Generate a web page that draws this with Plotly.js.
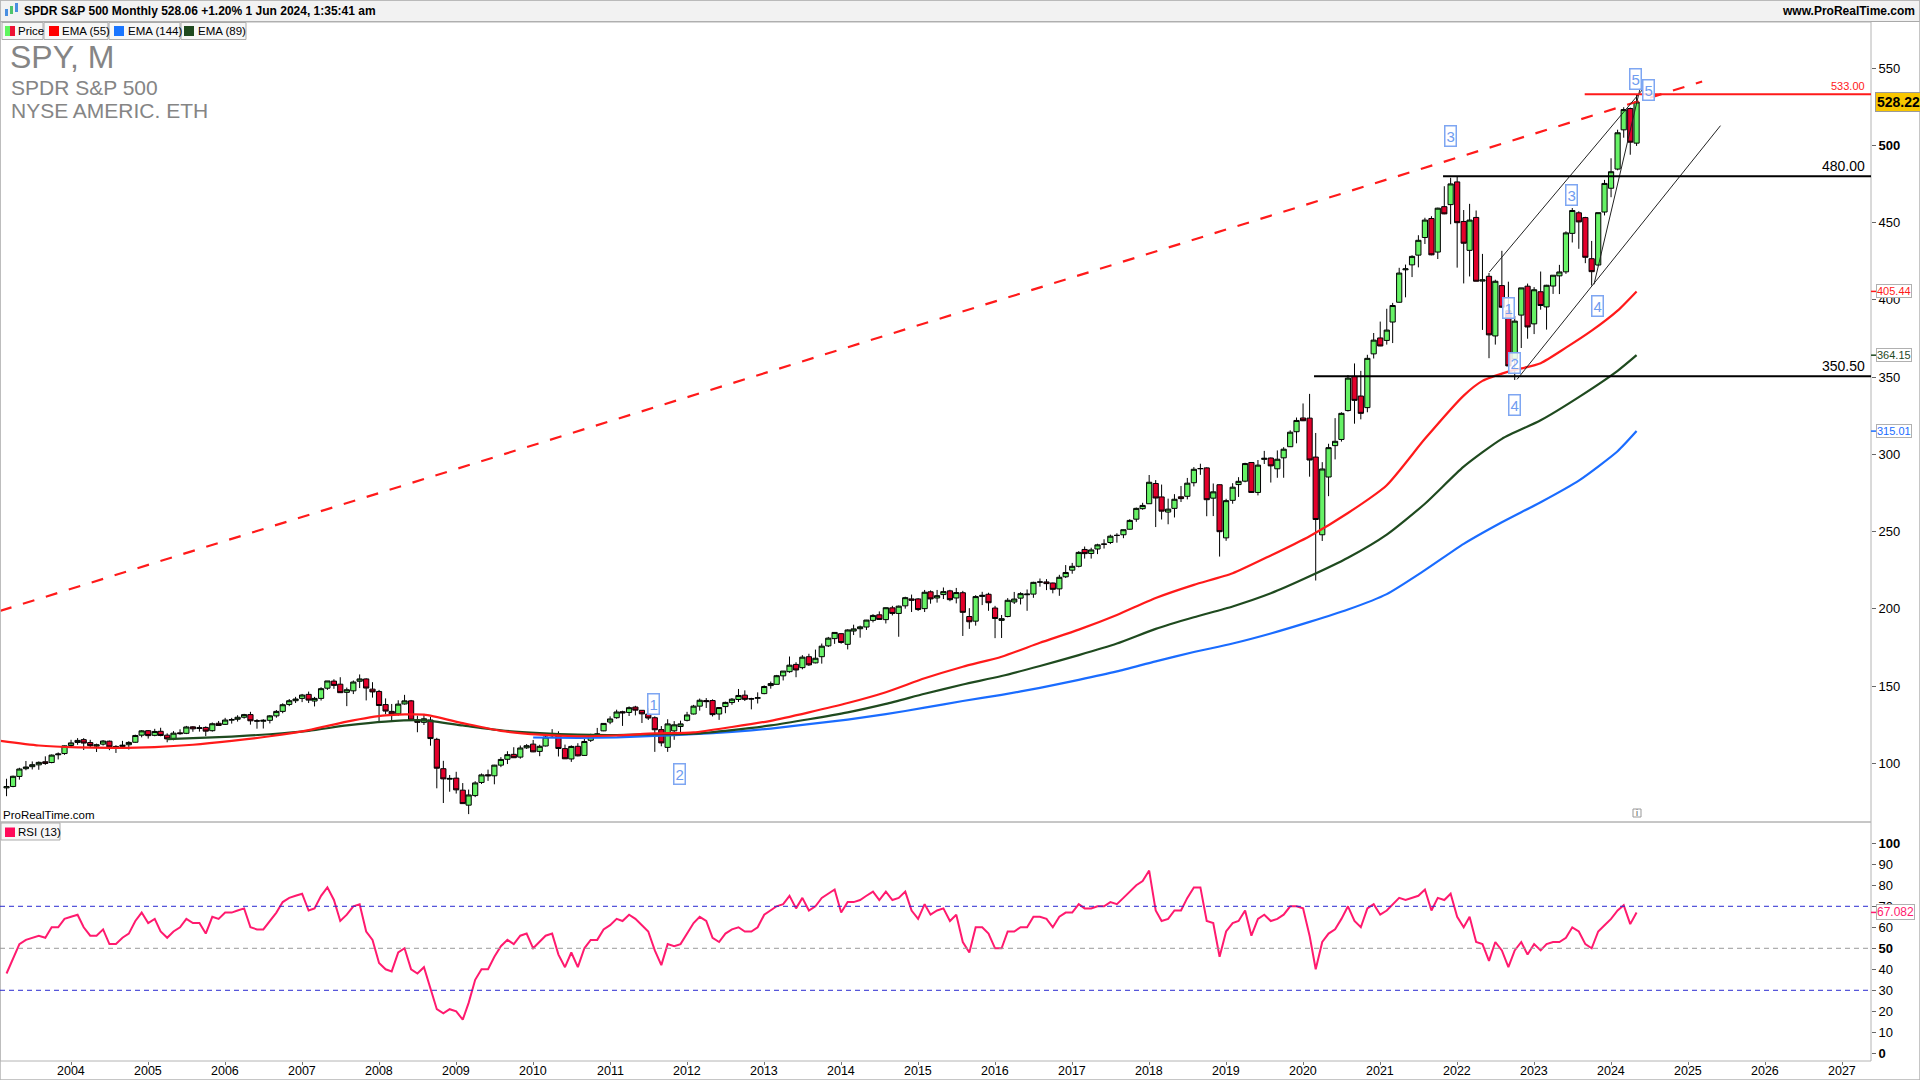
<!DOCTYPE html>
<html><head><meta charset="utf-8">
<script src="https://cdn.plot.ly/plotly-3.0.1.min.js"></script>
<style>html,body{margin:0;padding:0;background:#fff;overflow:hidden}#chart{width:1920px;height:1080px}</style>
</head><body><div id="chart"></div>
<script>
// ---------- DATA (SPY monthly, first bar = March 2003) ----------
const firstBar = [2003, 3];
const open = [
84.1,85.0,91.5,96.5,97.8,99.0,101.0,100.5,105.5,106.3,
111.5,113.5,115.3,113.4,111.1,112.4,114.3,110.9,110.9,112.0,113.6,118.2,
121.1,118.1,120.7,118.2,115.8,119.7,119.4,123.6,122.5,123.2,121.1,125.9,
125.2,127.9,128.5,129.8,131.5,127.6,127.2,127.8,130.7,133.6,138.1,140.5,
142.0,144.6,140.3,142.0,148.6,153.2,151.2,145.9,146.9,153.1,154.6,148.0,
146.5,138.0,133.6,132.0,138.4,140.4,127.6,126.5,128.0,115.5,96.5,89.7,
90.4,82.6,72.9,79.1,87.6,92.6,91.9,98.8,102.6,105.8,104.0,110.0,
112.4,107.7,111.2,117.8,118.9,109.5,102.8,111.0,105.1,114.9,119.0,121.0,
126.7,129.5,133.4,132.9,136.4,134.3,131.8,129.5,121.8,110.3,121.0,123.8,
127.8,131.9,137.0,140.6,140.6,131.9,136.7,139.3,141.3,144.1,141.9,142.1,
145.1,150.3,151.1,156.6,159.3,164.0,161.9,169.0,165.0,169.0,176.0,180.7,
183.9,177.0,185.6,187.1,188.2,192.5,196.1,193.0,200.6,197.0,201.9,206.4,
206.4,200.1,211.0,207.0,209.2,211.6,207.0,210.4,195.0,192.0,208.0,209.4,
200.5,192.5,195.0,204.4,206.9,209.1,209.5,217.2,217.4,216.7,212.9,220.7,
225.0,227.5,238.4,235.8,238.7,241.9,242.9,247.5,247.9,251.5,258.0,264.8,
268.0,281.1,272.4,262.6,265.0,272.5,272.8,281.6,290.8,291.2,271.6,280.3,
245.9,270.2,280.4,282.6,294.7,275.3,296.7,297.6,290.6,297.7,304.9,314.6,
323.5,323.4,298.2,247.9,285.3,305.6,309.6,328.3,350.4,337.7,330.2,365.0,
375.3,373.7,385.6,398.4,419.4,422.6,428.9,440.3,452.6,430.9,460.3,461.6,
476.3,450.7,432.0,453.3,412.1,415.2,376.6,409.2,392.9,361.8,390.1,408.8,
384.4,405.2,395.4,408.9,415.5,418.1,443.0,456.3,453.2,426.6,422.5,456.8,
472.2,484.6,510.0,523.8,501.4];
const high = [
90.0,92.0,97.1,101.5,101.2,101.2,104.5,105.7,107.0,111.5,
115.2,116.3,116.3,115.2,112.7,115.0,114.7,111.7,114.5,114.3,118.5,121.5,
121.4,122.3,123.0,119.4,120.8,122.0,124.2,124.0,124.6,123.9,126.4,127.4,
129.4,129.4,131.1,132.0,133.3,128.6,128.5,131.2,134.5,138.8,141.6,143.0,
144.9,146.4,143.0,149.2,153.3,154.4,155.7,149.0,153.6,157.5,155.0,152.5,
147.5,142.0,138.4,140.8,144.3,141.0,130.8,131.8,130.0,116.5,101.6,92.4,
94.5,87.2,83.0,88.4,93.4,95.9,99.0,104.0,107.8,110.4,111.5,112.4,
115.1,112.0,117.9,122.1,120.7,112.1,111.6,113.0,115.7,119.1,122.9,126.0,
130.4,134.7,134.0,136.8,137.2,134.4,135.7,130.4,124.1,128.5,127.3,127.6,
133.3,137.8,141.9,142.2,141.4,136.3,139.9,142.2,148.1,147.2,142.4,145.9,
150.4,152.9,157.2,159.7,169.1,165.4,170.0,170.9,173.6,177.5,181.8,184.7,
184.1,186.7,189.7,189.1,192.8,196.5,198.3,200.6,201.9,202.1,207.8,209.2,
206.9,212.2,211.9,212.2,213.8,212.3,213.5,211.6,200.4,208.8,211.0,210.4,
201.9,196.0,206.9,210.9,210.7,212.5,217.5,219.6,219.2,216.9,222.0,228.3,
229.7,237.3,240.3,239.5,242.1,245.0,248.0,248.9,251.3,258.0,265.5,268.6,
286.6,283.3,280.4,271.3,274.2,279.5,284.7,291.7,293.9,291.6,281.1,280.4,
271.2,281.3,285.2,294.5,294.9,296.3,302.2,297.9,302.5,304.6,315.5,323.8,
332.9,339.1,313.8,294.9,306.8,323.4,327.2,351.3,358.8,354.0,364.4,378.5,
385.9,394.2,398.0,420.7,422.8,428.8,441.8,453.1,454.1,459.6,473.5,479.0,
480.0,458.1,462.1,457.8,429.7,417.4,413.0,431.7,411.7,389.5,407.7,410.5,
408.2,418.3,409.7,415.9,422.6,444.3,459.4,457.3,453.7,438.1,456.4,477.6,
491.6,510.1,524.6,524.4,533.1];
const low = [
78.7,84.5,89.4,95.5,96.0,95.8,99.0,100.0,102.5,105.5,
110.5,112.0,108.6,110.4,107.3,111.5,108.5,106.7,109.5,108.9,113.3,116.8,
116.0,117.5,117.5,113.6,114.9,118.5,118.9,120.4,120.5,117.6,120.5,124.5,
124.8,125.7,127.0,128.9,125.0,122.4,122.5,125.8,129.5,132.4,137.0,139.0,
139.6,139.0,136.8,140.6,147.5,148.2,145.5,137.0,144.8,148.7,140.7,142.5,
126.1,131.8,127.0,130.8,138.0,127.6,120.1,124.8,111.4,83.8,74.3,81.6,
80.4,73.9,67.1,78.1,86.6,88.6,86.4,97.5,99.5,103.5,103.0,109.3,
107.2,104.6,110.9,116.7,104.4,102.8,100.9,104.5,104.8,113.8,117.1,120.8,
125.3,128.8,124.2,130.6,131.0,126.1,128.0,107.4,111.0,107.4,115.2,118.9,
127.1,131.6,134.1,135.8,130.3,128.1,132.4,137.8,139.7,140.3,134.9,138.7,
144.7,148.3,151.1,153.6,158.6,155.7,160.8,163.0,164.7,164.5,175.3,177.3,
177.4,173.7,183.0,181.3,186.3,191.2,192.9,190.5,195.7,181.9,200.1,197.9,
198.6,197.9,203.3,204.0,206.3,204.9,203.5,182.4,187.0,189.1,202.4,198.7,
181.0,181.1,194.5,203.1,202.8,198.7,207.1,214.3,212.1,210.0,208.4,219.9,
222.7,226.8,232.5,232.5,235.4,239.0,241.9,242.8,245.7,251.2,256.3,264.1,
268.0,252.9,257.8,254.7,259.1,269.1,270.8,279.2,286.7,259.9,260.0,233.8,
244.0,268.0,272.4,281.9,275.0,273.4,293.7,281.7,284.8,284.8,304.7,307.1,
321.5,285.5,218.3,243.9,272.9,296.7,308.2,327.7,319.8,322.6,327.2,362.0,
370.0,371.0,372.0,398.2,401.6,414.7,421.0,436.1,428.8,426.4,455.4,448.9,
420.8,410.6,415.1,412.0,380.5,362.2,371.0,395.0,357.0,348.1,368.8,374.8,
377.8,393.6,380.7,403.8,403.7,416.8,437.1,433.0,423.7,409.2,421.7,454.6,
466.4,483.8,504.9,493.9,499.6];
const close = [
84.9,91.6,96.3,97.6,99.1,100.6,99.9,105.3,106.0,111.3,
113.2,114.8,113.1,111.4,112.0,114.4,110.6,110.6,111.7,113.5,118.0,121.0,
117.9,120.6,118.0,115.8,119.5,119.2,123.5,122.3,123.0,120.8,125.6,124.5,
128.0,128.3,129.8,131.5,127.5,127.3,127.8,130.7,133.6,137.9,140.5,141.6,
144.2,140.9,142.0,148.3,153.3,150.4,145.7,147.6,152.6,154.6,148.7,146.2,
137.4,133.8,132.0,138.3,140.4,127.9,126.5,128.8,116.0,96.8,89.9,90.2,
82.8,73.9,79.5,87.3,92.5,91.9,98.8,102.5,105.6,103.6,109.9,111.4,
107.4,111.0,117.0,118.8,109.6,102.9,110.9,104.8,114.1,118.5,118.8,125.8,
128.7,133.2,132.6,136.0,134.4,132.0,129.3,121.7,113.2,125.5,124.9,125.5,
131.3,137.0,140.8,139.9,131.5,136.1,139.4,141.5,143.9,141.4,141.6,142.4,
149.7,151.6,156.7,159.7,163.5,160.4,168.7,163.7,168.0,175.8,181.0,184.7,
178.2,186.3,187.0,188.3,192.7,195.7,193.1,200.7,197.0,201.7,207.2,205.5,
199.5,210.7,206.4,208.5,211.1,205.9,210.5,197.7,191.6,207.9,208.7,203.9,
193.7,193.6,205.5,206.3,209.8,209.5,217.1,217.4,216.3,212.6,220.4,223.5,
227.5,236.5,235.7,238.1,241.4,241.8,247.0,247.5,251.2,257.2,265.0,266.9,
281.9,271.7,263.2,264.5,270.9,271.3,281.3,290.3,290.7,270.6,275.7,249.9,
270.0,278.7,282.5,294.0,275.3,293.0,297.4,292.5,296.8,303.3,314.3,321.9,
321.7,296.3,257.8,290.5,304.3,308.4,326.5,349.3,334.9,326.5,362.1,373.9,
370.1,380.4,396.3,417.3,420.0,428.1,438.5,451.6,429.1,459.3,455.6,475.0,
449.9,436.6,451.6,412.0,412.9,377.3,412.0,395.2,357.2,386.2,407.7,382.4,
406.5,396.3,409.4,415.9,418.0,443.3,457.8,450.4,427.5,418.2,456.4,475.3,
482.9,508.1,523.1,502.0,528.06];
const rsi13 = [
38,45,52,54,55,56,55,60,60,64,
65,66,60,56,56,59,52,52,55,57,63,67,
62,64,58,55,58,60,64,62,62,57,65,64,
67,67,68,69,60,59,59,63,67,72,74,75,
76,68,69,75,79,73,63,66,70,71,58,54,
43,40,39,48,50,40,38,41,31,21,19,21,
20,16,24,35,40,40,46,51,54,52,56,57,
50,53,56,57,47,41,48,41,50,54,54,59,
61,64,63,66,64,61,58,49,42,52,51,52,
57,62,65,63,55,53,57,59,60,58,58,60,
66,68,70,71,75,69,74,68,70,74,76,78,
67,72,72,73,75,77,73,77,73,74,77,68,
64,71,66,68,69,63,66,53,48,60,60,57,
50,50,58,58,60,60,65,65,64,60,65,67,
67,71,69,69,70,70,72,71,74,77,80,82,
87,68,63,64,68,68,74,79,79,63,62,46,
58,62,63,68,56,64,66,63,64,66,70,70,
69,56,40,53,57,59,64,70,63,60,69,71,
66,68,71,74,73,74,75,78,68,74,73,76,
65,60,65,53,52,44,53,49,41,49,53,47,
52,49,52,53,53,55,60,58,52,50,58,61,
64,68,70.5,61.5,67.082];

// EMA lines
const ema55Dates = ['2003-02-01','2003-08-01','2004-02-01','2004-08-01','2005-02-01','2005-08-01','2006-02-01','2006-08-01','2007-02-01','2007-08-01','2008-02-01','2008-08-01','2009-02-01','2009-08-01','2010-02-01','2010-08-01','2011-02-01','2011-08-01','2012-02-01','2012-08-01','2013-02-01','2013-08-01','2014-02-01','2014-08-01','2015-02-01','2015-08-01','2016-02-01','2016-08-01','2017-02-01','2017-08-01','2018-02-01','2018-08-01','2019-02-01','2019-08-01','2020-02-01','2020-08-01','2021-02-01','2021-08-01','2022-02-01','2022-05-01','2022-09-01','2023-02-01','2023-06-01','2023-10-01','2024-02-01','2024-05-01'];
const ema55 = [114.5,111.5,110.3,110.0,110.5,112.0,114.5,117.5,121.5,127.0,131.0,131.5,126.0,121.0,118.5,117.5,118.0,119.3,120.0,123.5,127.5,133.0,139.0,146.0,155.0,162.5,169.0,178.0,186.5,196.0,207.0,215.5,223.0,234.5,247.0,262.0,280.0,310.0,338.0,347.5,353.5,359.0,369.0,380.0,393.0,405.44];
const ema89Dates = ['2005-04-01','2005-08-01','2006-02-01','2006-08-01','2007-02-01','2007-08-01','2008-02-01','2008-08-01','2009-02-01','2009-08-01','2010-02-01','2010-08-01','2011-02-01','2011-08-01','2012-02-01','2012-08-01','2013-02-01','2013-08-01','2014-02-01','2014-08-01','2015-02-01','2015-08-01','2016-02-01','2016-08-01','2017-02-01','2017-08-01','2018-02-01','2018-08-01','2019-02-01','2019-08-01','2020-02-01','2020-08-01','2021-02-01','2021-08-01','2022-02-01','2022-08-01','2023-02-01','2023-08-01','2024-02-01','2024-05-01'];
const ema89 = [115.7,116.3,117.3,118.8,121.0,124.5,127.0,127.8,124.5,121.3,119.5,118.5,118.3,118.8,119.2,121.5,124.5,128.5,133.0,138.5,145.0,151.0,156.5,163.0,170.0,177.5,187.0,194.5,201.5,210.0,221.0,233.0,248.0,268.0,292.0,310.0,322.0,337.0,354.0,364.15];
const ema144Dates = ['2010-01-01','2010-08-01','2011-02-01','2011-08-01','2012-02-01','2012-08-01','2013-02-01','2013-08-01','2014-02-01','2014-08-01','2015-02-01','2015-08-01','2016-02-01','2016-08-01','2017-02-01','2017-08-01','2018-02-01','2018-08-01','2019-02-01','2019-08-01','2020-02-01','2020-08-01','2021-02-01','2021-08-01','2022-02-01','2022-08-01','2023-02-01','2023-08-01','2024-02-01','2024-05-01'];
const ema144 = [116.7,116.5,116.8,117.8,118.8,120.3,122.5,125.3,128.3,131.8,136.0,140.3,144.3,148.8,154.0,159.5,166.0,172.0,177.5,184.0,191.5,199.5,209.5,225.0,242.0,256.0,269.0,283.0,302.0,315.01];

// Drawn objects (dates, prices)
const trendDates = ['2003-01-29','2025-03-08'];
const trendValues = [198.6, 541.3];
const channelUpperDates = ['2022-06-03','2024-05-29'];
const channelUpperValues = [418, 536];
const channelLowerDates = ['2022-10-12','2025-06-03'];
const channelLowerValues = [348.5, 512.7];
const steepDates = ['2023-10-12','2024-05-18'];
const steepValues = [410, 537];
const levelValues = [533.00, 480.00, 350.50];
const levelStarts = ['2023-08-29','2021-10-26','2020-02-22'];
const levelColors = ['#ff1a1a','#000000','#000000'];
const levelLabels = ['533.00','480.00','350.50'];
const waveTexts = ['1','2','3','1','2','4','3','4','5','5'];
const waveDates = ['2011-07-27','2011-11-28','2021-11-28','2022-09-02','2022-10-02','2022-10-02','2023-06-28','2023-10-30','2024-04-26','2024-06-28'];
const waveValues = [138.4, 93, 506, 395, 359, 332, 468, 396, 543, 536];
const yearLabels = ['2004','2005','2006','2007','2008','2009','2010','2011','2012','2013','2014','2015','2016','2017','2018','2019','2020','2021','2022','2023','2024','2025','2026','2027'];
const priceTicks = [100,150,200,250,300,350,400,450,500,550];
const rsiTicks = [0,10,20,30,40,50,60,70,80,90,100];
const lastPrice = 528.22;
const emaLast = [405.44, 364.15, 315.01];
const emaColors = ['#ff1a1a','#1f4a1f','#1a6cff'];
const rsiLast = 67.082;
const rsiLevels = [70, 50, 30];

// ---------- BUILD ----------
const dates = [];
{ let y = firstBar[0], m = firstBar[1];
  for (let i = 0; i < close.length; i++) { dates.push(y + '-' + String(m).padStart(2,'0') + '-01'); m++; if (m > 12) { m = 1; y++; } } }

const W = 1920, H = 1080;
const PX = v => v / W, PY = v => 1 - v / H;
const FONT = 'Liberation Sans, Arial, sans-serif';
const plotRight = PX(1871);

const traces = [
  {type:'scatter', mode:'lines', x:ema144Dates, y:ema144, line:{color:emaColors[2], width:2.2, shape:'spline', smoothing:0.6}, hoverinfo:'skip'},
  {type:'scatter', mode:'lines', x:ema89Dates, y:ema89, line:{color:emaColors[1], width:2.2, shape:'spline', smoothing:0.6}, hoverinfo:'skip'},
  {type:'scatter', mode:'lines', x:ema55Dates, y:ema55, line:{color:emaColors[0], width:2.2, shape:'spline', smoothing:0.6}, hoverinfo:'skip'},
  {type:'scatter', mode:'lines', x:trendDates, y:trendValues, line:{color:'#ff1a1a', width:2.2, dash:'12px,12px'}, hoverinfo:'skip'},
  {type:'scatter', mode:'lines', x:channelUpperDates, y:channelUpperValues, line:{color:'#222', width:1}, hoverinfo:'skip'},
  {type:'scatter', mode:'lines', x:channelLowerDates, y:channelLowerValues, line:{color:'#222', width:1}, hoverinfo:'skip'},
  {type:'scatter', mode:'lines', x:steepDates, y:steepValues, line:{color:'#222', width:1}, hoverinfo:'skip'},
  {type:'candlestick', x:dates, open:open, high:high, low:low, close:close, xaxis:'x', yaxis:'y',
   increasing:{line:{color:'#000', width:1}, fillcolor:'#66f266'},
   decreasing:{line:{color:'#000', width:1}, fillcolor:'#e3002b'},
   whiskerwidth:0, hoverinfo:'skip'},
  {type:'scatter', mode:'lines', x:dates, y:rsi13, xaxis:'x', yaxis:'y2', line:{color:'#ff1a6e', width:2}, hoverinfo:'skip'}
];

const shapes = [];
const annotations = [];
// header bar
shapes.push({type:'rect', xref:'paper', yref:'paper', x0:0, x1:1, y0:PY(21.5), y1:1, fillcolor:'#f2f2f2', line:{color:'#a9a9a9', width:1}, layer:'below'});
// header icon
shapes.push({type:'rect', xref:'paper', yref:'paper', x0:PX(5), x1:PX(8), y0:PY(16), y1:PY(9), fillcolor:'#4a8fe0', line:{width:0}});
shapes.push({type:'rect', xref:'paper', yref:'paper', x0:PX(10), x1:PX(13), y0:PY(14), y1:PY(6), fillcolor:'#4fc46b', line:{width:0}});
shapes.push({type:'rect', xref:'paper', yref:'paper', x0:PX(15), x1:PX(18), y0:PY(12), y1:PY(3), fillcolor:'#4a8fe0', line:{width:0}});
// panels
shapes.push({type:'rect', xref:'paper', yref:'paper', x0:0, x1:plotRight, y0:PY(822), y1:PY(22), line:{color:'#b4b4b4', width:1}});
shapes.push({type:'rect', xref:'paper', yref:'paper', x0:0, x1:plotRight, y0:PY(1061), y1:PY(822), line:{color:'#b4b4b4', width:1}});
shapes.push({type:'rect', xref:'paper', yref:'paper', x0:0, x1:1, y0:0, y1:1, line:{color:'#b4b4b4', width:1.5}});
// legend boxes
const legendBoxes = [
  {x0:2, x1:43, sw:[['#5df55d',5,10],['#ee1133',10,15]], text:'Price', tx:18},
  {x0:44, x1:108, sw:[['#ff0000',49,59]], text:'EMA (55)', tx:62},
  {x0:109, x1:180, sw:[['#1a75ff',114,124]], text:'EMA (144)', tx:128},
  {x0:181, x1:246, sw:[['#1f4a1f',184,194]], text:'EMA (89)', tx:198}
];
legendBoxes.forEach(b => {
  shapes.push({type:'rect', xref:'paper', yref:'paper', x0:PX(b.x0), x1:PX(b.x1), y0:PY(39.5), y1:PY(22.5), fillcolor:'#f7f7f7', line:{color:'#ababab', width:1}});
  b.sw.forEach(s => shapes.push({type:'rect', xref:'paper', yref:'paper', x0:PX(s[1]), x1:PX(s[2]), y0:PY(36), y1:PY(26), fillcolor:s[0], line:{width:0}}));
  annotations.push({xref:'paper', yref:'paper', x:PX(b.tx-2), y:PY(31), xanchor:'left', yanchor:'middle', text:b.text, showarrow:false, font:{family:FONT, size:11.5, color:'#000'}});
});
// RSI legend
shapes.push({type:'rect', xref:'paper', yref:'paper', x0:PX(1), x1:PX(60), y0:PY(840), y1:PY(823), fillcolor:'#f7f7f7', line:{color:'#ababab', width:1}});
shapes.push({type:'rect', xref:'paper', yref:'paper', x0:PX(5), x1:PX(15), y0:PY(837), y1:PY(827.5), fillcolor:'#ff0a5a', line:{width:0}});
annotations.push({xref:'paper', yref:'paper', x:PX(16), y:PY(831.5), xanchor:'left', yanchor:'middle', text:'RSI (13)', showarrow:false, font:{family:FONT, size:11.5, color:'#000'}});
// RSI levels
rsiLevels.forEach(v => shapes.push({type:'line', xref:'paper', yref:'y2', x0:0, x1:plotRight, y0:v, y1:v, line:{color: v===50 ? '#9a9a9a' : '#2a2ad0', width:1, dash:'5px,4px'}}));
// horizontal price levels
levelValues.forEach((v,i) => {
  shapes.push({type:'line', xref:'x', yref:'y', x0:levelStarts[i], x1:'2027-05-18', y0:v, y1:v, line:{color:levelColors[i], width:2}});
  annotations.push({xref:'paper', yref:'y', x:PX(1867), y:v, xanchor:'right', yanchor:'bottom', yshift:0, text:levelLabels[i], showarrow:false, font:{family:FONT, size: i===0 ? 11 : 14, color: i===0 ? '#ff1a1a' : '#000'}});
});
// wave labels
waveTexts.forEach((t,i) => annotations.push({xref:'x', yref:'y', x:waveDates[i], y:waveValues[i], text:t, showarrow:false, font:{family:FONT, size:15, color:'#6f9cf0'}, bordercolor:'#7ea6f2', borderwidth:1.5, borderpad:1, bgcolor:'rgba(255,255,255,0.85)'}));
// info icon
shapes.push({type:'rect', xref:'paper', yref:'paper', x0:PX(1633), x1:PX(1641), y0:PY(817), y1:PY(809), fillcolor:'#ffffff', line:{color:'#999', width:1}});
annotations.push({xref:'paper', yref:'paper', x:PX(1637), y:PY(813), xanchor:'center', yanchor:'middle', text:'i', showarrow:false, font:{family:FONT, size:9, color:'#555'}});
// watermark & texts
annotations.push({xref:'paper', yref:'paper', x:PX(8), y:PY(57), xanchor:'left', yanchor:'middle', text:'SPY, M', showarrow:false, font:{family:FONT, size:32, color:'#858585'}});
annotations.push({xref:'paper', yref:'paper', x:PX(9), y:PY(87), xanchor:'left', yanchor:'middle', text:'SPDR S&amp;P 500', showarrow:false, font:{family:FONT, size:21, color:'#858585'}});
annotations.push({xref:'paper', yref:'paper', x:PX(9), y:PY(111), xanchor:'left', yanchor:'middle', text:'NYSE AMERIC. ETH', showarrow:false, font:{family:FONT, size:21, color:'#858585'}});
annotations.push({xref:'paper', yref:'paper', x:PX(1), y:PY(815), xanchor:'left', yanchor:'middle', text:'ProRealTime.com', showarrow:false, font:{family:FONT, size:11.5, color:'#000'}});
annotations.push({xref:'paper', yref:'paper', x:PX(22), y:PY(11), xanchor:'left', yanchor:'middle', text:'<b>SPDR S&amp;P 500 Monthly 528.06 +1.20% 1 Jun 2024, 1:35:41 am</b>', showarrow:false, font:{family:FONT, size:12, color:'#000'}});
annotations.push({xref:'paper', yref:'paper', x:PX(1917), y:PY(11), xanchor:'right', yanchor:'middle', text:'<b>www.ProRealTime.com</b>', showarrow:false, font:{family:FONT, size:12, color:'#000'}});
// year labels under the RSI panel
yearLabels.forEach(y => annotations.push({xref:'x', yref:'paper', x:y + '-01-01', y:PY(1070.5), xanchor:'center', yanchor:'middle', text:y, showarrow:false, font:{family:FONT, size:12.5, color:'#000'}}));
// right axis value labels
annotations.push({xref:'paper', yref:'y', x:PX(1875), y:lastPrice, xanchor:'left', yanchor:'middle', text:'<b>'+lastPrice.toFixed(2)+'</b>', showarrow:false, font:{family:FONT, size:14, color:'#000'}, bgcolor:'#f8c600', bordercolor:'#9a9a9a', borderwidth:1, borderpad:1});
emaLast.forEach((v,i) => {
  shapes.push({type:'line', xref:'paper', yref:'y', x0:plotRight, x1:PX(1876), y0:v, y1:v, line:{color:emaColors[i], width:1.5}});
  annotations.push({xref:'paper', yref:'y', x:PX(1876), y:v, xanchor:'left', yanchor:'middle', text:v.toFixed(2), showarrow:false, font:{family:FONT, size:11, color:emaColors[i]}, bgcolor:'#fff', bordercolor:'#b0b0b0', borderwidth:1, borderpad:0});
});
shapes.push({type:'line', xref:'paper', yref:'y2', x0:plotRight, x1:PX(1876), y0:rsiLast, y1:rsiLast, line:{color:'#ff1a6e', width:1.5}});
annotations.push({xref:'paper', yref:'y2', x:PX(1876), y:rsiLast, xanchor:'left', yanchor:'middle', text:rsiLast.toFixed(3), showarrow:false, font:{family:FONT, size:12, color:'#ff1a6e'}, bgcolor:'#fff', bordercolor:'#b0b0b0', borderwidth:1, borderpad:0});

const layout = {
  width:W, height:H, margin:{l:0, r:0, t:0, b:0},
  paper_bgcolor:'#ffffff', plot_bgcolor:'#ffffff', showlegend:false, hovermode:false,
  boxgap:0.12, boxgroupgap:0,
  font:{family:FONT, size:13, color:'#000'},
  xaxis:{type:'date', domain:[0, plotRight], range:['2003-01-29','2027-05-18'], anchor:'y2',
    tickvals: yearLabels.map(y => y + '-01-01'), showticklabels:false,
    ticks:'outside', ticklen:3, tickcolor:'#777',
    showgrid:false, zeroline:false, showline:false, rangeslider:{visible:false}, fixedrange:true},
  yaxis:{domain:[PY(822), PY(22)], range:[62.0, 579.8], side:'right', anchor:'x',
    tickvals: priceTicks, ticktext: priceTicks.map(v => v===500 ? '<b>'+v+'</b>' : String(v)),
    ticks:'outside', ticklen:4, tickcolor:'#666', tickfont:{family:FONT, size:13, color:'#000'},
    showgrid:false, zeroline:false, showline:false, fixedrange:true},
  yaxis2:{domain:[PY(1061), PY(822)], range:[-3.67, 110.14], side:'right', anchor:'x',
    tickvals: rsiTicks, ticktext: rsiTicks.map(v => (v===0||v===50||v===100) ? '<b>'+v+'</b>' : String(v)),
    ticks:'outside', ticklen:4, tickcolor:'#666', tickfont:{family:FONT, size:13, color:'#000'},
    showgrid:false, zeroline:false, showline:false, fixedrange:true},
  shapes: shapes, annotations: annotations
};

Plotly.newPlot('chart', traces, layout, {staticPlot:true, displayModeBar:false});
</script></body></html>
